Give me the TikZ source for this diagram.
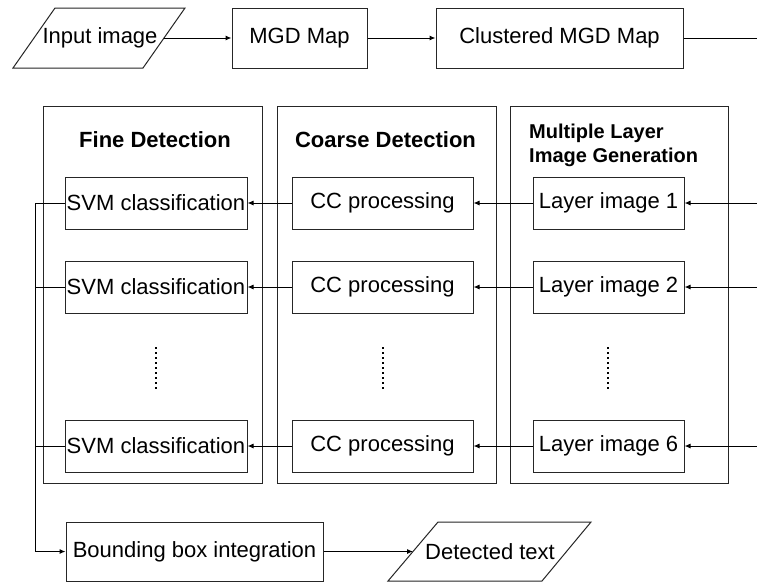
\documentclass[tikz,border=0pt]{standalone}
\usepackage{fontspec}
\setmainfont{Liberation Sans}
\usetikzlibrary{arrows.meta}
\begin{document}
\begin{tikzpicture}[x=1pt,y=-1pt,
  box/.style={draw=black!85, line width=1pt, inner sep=0pt, font=\fontsize{22}{26}\selectfont},
  panel/.style={draw=black!85, line width=1pt},
  arr/.style={-{Latex[length=6pt,width=5pt]}, line width=1pt},
  ln/.style={line width=1pt},
  title/.style={inner sep=0pt, font=\bfseries\fontsize{22}{26}\selectfont},
  dotcol/.style={line width=2pt, dash pattern=on 2pt off 3pt},
  txt/.style={inner sep=0pt, font=\fontsize{22}{26}\selectfont}]
% canvas
\fill[white] (0,0) rectangle (757,582);
\useasboundingbox (0,0) rectangle (757,582);

% top row
\draw[panel] (13,68) -- (55,8) -- (185,8) -- (143,68) -- cycle;
\node[txt] (inimg) at (100,38) {Input image};
\coordinate (inR) at (164,38);
\node[box, minimum width=135pt, minimum height=60pt] (mgd) at (299.5,38) {MGD Map};
\node[box, minimum width=247pt, minimum height=60pt] (clus) at (559.5,38) {Clustered MGD Map};
\coordinate (topend) at (757,38);

% stage panels
\draw[panel] (43,106) rectangle (262,483);
\draw[panel] (277,106) rectangle (496,483);
\draw[panel] (510,106) rectangle (728,483);
\node[title] (tfine) at (155,140) {Fine Detection};
\node[title] (tcoarse) at (385.5,140) {Coarse Detection};
\node[inner sep=0pt, anchor=west, align=left, font=\bfseries\fontsize{20}{24}\selectfont] (tmulti) at (529,145) {Multiple Layer\\Image Generation};

% processing rows
\foreach \i/\y/\n in {1/203/1, 2/287/2, 3/446/6}{
  \node[box, minimum width=182pt, minimum height=52pt] (svm\i) at (156,\y) {SVM classification};
  \node[box, minimum width=181pt, minimum height=52pt] (cc\i) at (382.5,\y) {CC processing};
  \node[box, minimum width=151pt, minimum height=52pt] (lay\i) at (608.5,\y) {Layer image \n};
  \coordinate (rin\i) at (757,\y);
}

% elided rows
\draw[dotcol] (156,347) -- (156,391);
\draw[dotcol] (383,347) -- (383,391);
\draw[dotcol] (608,347) -- (608,391);

% output row
\node[box, minimum width=257pt, minimum height=59pt] (bb) at (194.5,551.5) {Bounding box integration};
\draw[panel] (388,581) -- (438,522) -- (591,522) -- (542,581) -- cycle;
\node[txt] (det) at (490,551.5) {Detected text};
\coordinate (detL) at (413,551.5);
\coordinate (cbot) at (35,551.5);

% connectors
\draw[arr] (inR) -- (mgd.west);
\draw[arr] (mgd.east) -- (clus.west);
\draw[ln] (clus.east) -- (topend);
\foreach \i in {1,2,3}{
  \draw[arr] (rin\i) -- (lay\i.east);
  \draw[arr] (lay\i.west) -- (cc\i.east);
  \draw[arr] (cc\i.west) -- (svm\i.east);
}
\draw[arr] (svm1.west) -| (cbot) -- (bb.west);
\draw[ln] (svm2.west) -- (svm2.west -| cbot);
\draw[ln] (svm3.west) -- (svm3.west -| cbot);
\draw[arr] (bb.east) -- (detL);
\end{tikzpicture}
\end{document}
